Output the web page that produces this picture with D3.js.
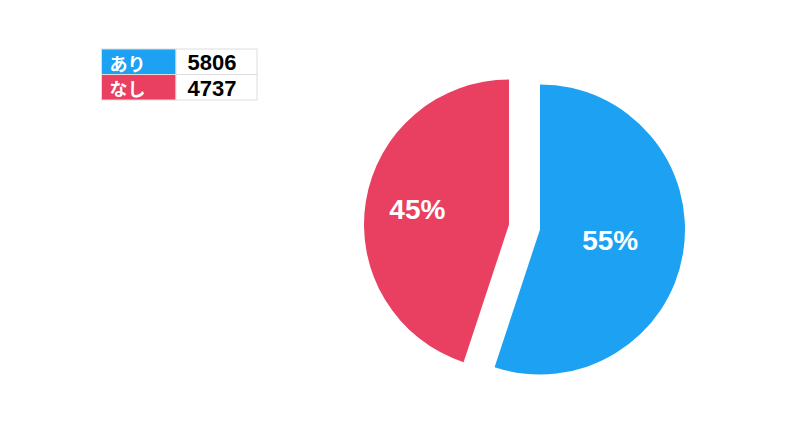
<!DOCTYPE html>
<html><head><meta charset="utf-8">
<script src="https://cdn.jsdelivr.net/npm/d3@7"></script>
<style>
html,body{margin:0;padding:0;background:#fff;}
svg{display:block;}
</style>
</head><body>
<svg id="chart" width="800" height="421"></svg>
<script>
const categories = ["あり", "なし"];
const values = [5806, 4737];
const colors = ["#1DA1F2", "#E94062"];
const labelRadiusFrac = [0.49, 0.64];

const svg = d3.select("#chart");
const W = 800, H = 421;
const cx = 524.5, cy = 227, R = 145, explode = 15.7;
const fontLatin = "'Liberation Sans', Arial, 'Noto Sans CJK JP', sans-serif";

const total = d3.sum(values);
const pie = d3.pie().sort(null).value(d => d)(values);
const arc = d3.arc().innerRadius(0).outerRadius(R);

const g = svg.append("g").attr("transform", `translate(${cx},${cy})`);
pie.forEach((p, i) => {
  const mid = (p.startAngle + p.endAngle) / 2;
  const ox = Math.sin(mid) * explode, oy = -Math.cos(mid) * explode;
  const sg = g.append("g").attr("transform", `translate(${ox},${oy})`);
  sg.append("path").attr("d", arc(p)).attr("fill", colors[i]);
  const lr = R * labelRadiusFrac[i];
  sg.append("text")
    .attr("x", Math.sin(mid) * lr)
    .attr("y", -Math.cos(mid) * lr)
    .attr("text-anchor", "middle")
    .attr("dominant-baseline", "central")
    .attr("fill", "#fff")
    .attr("font-family", fontLatin)
    .attr("font-weight", "bold")
    .attr("font-size", 28)
    .text(Math.round(values[i] / total * 100) + "%");
});

// legend table
const tx = 101.5, ty = 49, c1 = 74.5, c2 = 81, rh = 25.5;
const rows = d3.scaleBand().domain(categories).range([ty, ty + rh * categories.length]);
const lg = svg.append("g");
categories.forEach((c, i) => {
  const y = rows(c);
  lg.append("rect").attr("x", tx).attr("y", y).attr("width", c1).attr("height", rh)
    .attr("fill", colors[i]).attr("stroke", "#ddd").attr("stroke-width", 1);
  lg.append("rect").attr("x", tx + c1).attr("y", y).attr("width", c2).attr("height", rh)
    .attr("fill", "#fff").attr("stroke", "#ddd").attr("stroke-width", 1);
  lg.append("text").attr("x", tx + 8).attr("y", y + rh / 2 + 1)
    .attr("dominant-baseline", "central")
    .attr("fill", "#fff").attr("font-family", "'Noto Sans CJK JP', sans-serif")
    .attr("font-weight", "bold").attr("font-size", 18).text(c);
  lg.append("text").attr("x", tx + c1 + 11.5).attr("y", y + rh / 2 + 1)
    .attr("dominant-baseline", "central")
    .attr("fill", "#000").attr("font-family", fontLatin)
    .attr("font-weight", "bold").attr("font-size", 22).text(values[i]);
});
</script>
</body></html>
